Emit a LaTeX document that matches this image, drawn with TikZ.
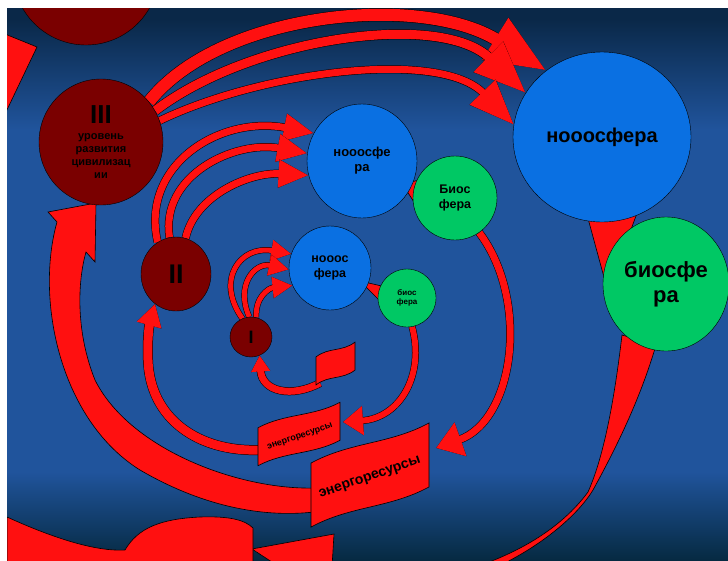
\documentclass[tikz,border=0pt]{standalone}
\usepackage{fontspec}
\setmainfont{Liberation Sans}
\usetikzlibrary{shapes.geometric,arrows.meta}

\definecolor{lvlred}{RGB}{122,0,0}
\definecolor{nooblue}{RGB}{10,112,226}
\definecolor{biogreen}{RGB}{0,200,100}
\definecolor{flowred}{RGB}{255,16,16}
\definecolor{navytop}{RGB}{10,40,72}
\definecolor{navybot}{RGB}{6,42,66}
\definecolor{midblue}{RGB}{32,84,156}

\pgfdeclarelayer{back}
\pgfdeclarelayer{bg}
\pgfsetlayers{back,bg,main}
\pgfdeclareverticalshading{sky}{100bp}{color(0bp)=(navybot); color(25bp)=(navybot); color(33bp)=(midblue); color(64bp)=(midblue); color(74bp)=(navytop); color(100bp)=(navytop)}

\tikzset{
  lvl/.style={ellipse, draw=black, fill=lvlred, inner sep=0pt, align=center, text=black},
  noo/.style={ellipse, draw=black, fill=nooblue, inner sep=0pt, align=center, text=black},
  bio/.style={ellipse, draw=black, fill=biogreen, inner sep=0pt, align=center, text=black},
  flow/.style={draw=flowred, line width=#1, preaction={draw=black, line width=#1+1pt}},
  band/.style={fill=flowred, draw=black, line width=0.6pt},
}

% wavy banner: width, height, amplitude
\newcommand{\wave}[3]{(-#1/2,-#2/2) .. controls (-#1/6,-#2/2-#3) and (#1/6,-#2/2+#3) .. (#1/2,-#2/2)
  -- (#1/2,#2/2) .. controls (#1/6,#2/2+#3) and (-#1/6,#2/2-#3) .. (-#1/2,#2/2) -- cycle}

\begin{document}
\begin{tikzpicture}[x=1pt, y=-1pt]
\useasboundingbox (0,0) rectangle (728,560);

\begin{pgfonlayer}{back}
  \fill[white] (0,0) rectangle (728,560);
  \shade[shading=sky] (7,8) rectangle (728,560);
\end{pgfonlayer}

\begin{scope}
  \clip (7,8) rectangle (728,560);
  % levels of civilisation
  \node[lvl, minimum width=146, minimum height=146] (nIV) at (86,-28) {};
  \node[lvl, minimum width=124, minimum height=126, font=\fontsize{11}{13}\selectfont\bfseries] (nIII) at (101,142)
    {{\fontsize{26}{26}\selectfont III}\\[3pt]уровень\\развития\\цивилизац\\ии};
  \node[lvl, minimum width=70, minimum height=74, font=\fontsize{27}{27}\selectfont\bfseries] (nII) at (176,274) {II};
  \node[lvl, minimum width=42, minimum height=40, font=\fontsize{18}{18}\selectfont\bfseries] (nI) at (251,337) {I};

  % spheres
  \node[noo, minimum width=178, minimum height=170, font=\fontsize{20}{22}\selectfont\bfseries] (nbig) at (602,137) {нооосфера};
  \node[bio, minimum width=126, minimum height=134, font=\fontsize{22}{25}\selectfont\bfseries] (nbg) at (666,284) {биосфе\\ра};
  \node[noo, minimum width=110, minimum height=114, font=\fontsize{13}{15}\selectfont\bfseries] (nmid) at (362,161) {нооосфе\\ра};
  \node[bio, minimum width=84, minimum height=84, font=\fontsize{12.5}{15}\selectfont\bfseries] (nbio) at (455,198) {Биос\\фера};
  \node[noo, minimum width=82, minimum height=84, font=\fontsize{12.5}{15}\selectfont\bfseries] (nsmall) at (330,268) {нооос\\фера};
  \node[bio, minimum width=58, minimum height=58, font=\fontsize{8}{9.5}\selectfont\bfseries] (nsg) at (407,298) {биос\\фера};

  % energy resources
  \begin{scope}[shift={(299,434)}, yslant=0.31]
    \filldraw[band] \wave{82}{38}{6};
  \end{scope}
  \node[rotate=19, font=\fontsize{9}{9}\selectfont\bfseries] (res1) at (300,437) {энергоресурсы};
  \begin{scope}[shift={(370,475)}, yslant=0.34]
    \filldraw[band] \wave{118}{64}{8};
  \end{scope}
  \node[rotate=19, font=\fontsize{14}{14}\selectfont\bfseries] (res2) at (370,478) {энергоресурсы};
  \begin{scope}[shift={(335.5,363.5)}, yslant=0.38]
    \filldraw[band] \wave{39}{28}{5};
  \end{scope}
  \coordinate (res1l) at (259,450);
  \coordinate (res1r) at (343,422);
  \coordinate (res2l) at (314,497);
  \coordinate (res2r) at (436,448);
  \coordinate (flagb) at (320,383);
\end{scope}

\begin{pgfonlayer}{bg}
\begin{scope}
  \clip (7,8) rectangle (728,560);
  % links between spheres
  \filldraw[band] (583,200) -- (640,205) -- (608,292) -- cycle;
  \filldraw[band] (403,185) -- (424,178) -- (423,216) -- cycle;
  \filldraw[band] (360,281) -- (386,287) -- (382,303) -- cycle;

  % III -> noosphere
  \draw[flow=12pt, -{Triangle[length=60pt,width=46pt]}] (nIII.40) .. controls (220,12) and (420,-8) .. (nbig.130);
  \draw[flow=9pt, -{Triangle[length=52pt,width=40pt]}] (nIII.30) .. controls (250,38) and (440,10) .. (nbig.150);
  \draw[flow=7pt, -{Triangle[length=45pt,width=34pt]}] (nIII.20) .. controls (260,72) and (440,48) .. (nbig.172);

  % II -> noosphere
  \draw[flow=7pt, -{Triangle[length=30pt,width=26pt]}] (nII.120) .. controls (140,165) and (220,115) .. (nmid.150);
  \draw[flow=7pt, -{Triangle[length=30pt,width=26pt]}] (nII.100) .. controls (160,175) and (235,140) .. (nmid.172);
  \draw[flow=7pt, -{Triangle[length=30pt,width=26pt]}] (nII.75) .. controls (195,195) and (250,172) .. (nmid.195);

  % I -> noosphere
  \draw[flow=5pt, -{Triangle[length=20pt,width=20pt]}] (nI.115) .. controls (215,280) and (240,245) .. (nsmall.160);
  \draw[flow=5pt, -{Triangle[length=20pt,width=20pt]}] (nI.95) .. controls (235,285) and (255,262) .. (nsmall.182);
  \draw[flow=5pt, -{Triangle[length=20pt,width=20pt]}] (nI.75) .. controls (255,298) and (268,288) .. (nsmall.205);

  % biosphere -> energy resources
  \draw[flow=6pt, -{Triangle[length=20pt,width=28pt]}] (nsg.-80) .. controls (425,375) and (400,418) .. (res1r);
  \draw[flow=7pt, -{Triangle[length=26pt,width=34pt]}] (nbio.-55) .. controls (530,300) and (515,420) .. (res2r);
  \filldraw[band] (622,335) .. controls (612,420) and (600,465) .. (588,492) .. controls (560,530) and (515,555) .. (466,570)
    -- (490,570) .. controls (540,548) and (578,515) .. (593,490) .. controls (615,450) and (640,400) .. (656,345) -- cycle;
  \filldraw[band] (252,549) -- (334,534) -- (330,600) -- cycle;

  % energy resources -> next level
  \draw[flow=7pt, -{Triangle[length=16pt,width=18pt]}] (flagb) .. controls (292,398) and (262,392) .. (nI.-65);
  \draw[flow=9pt, -{Triangle[length=22pt,width=24pt]}] (res1l) .. controls (200,452) and (150,420) .. (148,360)
    .. controls (147,335) and (150,322) .. (nII.-125);
  \filldraw[band] (96,203) -- (48,212) -- (57,222) .. controls (35,300) and (60,420) .. (140,470)
    .. controls (200,505) and (260,518) .. (res2l |- 0,512) -- (res2l |- 0,488) .. controls (240,490) and (130,450) .. (95,380)
    .. controls (75,330) and (78,280) .. (86,252) -- (95,262) -- cycle;

  % outer turn
  \filldraw[band] (7,517) .. controls (40,532) and (90,552) .. (125,550) .. controls (138,528) and (160,519) .. (200,517)
    .. controls (230,516) and (245,520) .. (253,528) -- (253,565) -- (7,565) -- cycle;
  \filldraw[band] (5,34) -- (37,47) -- (5,114) -- cycle;
\end{scope}
\end{pgfonlayer}

\end{tikzpicture}
\end{document}
